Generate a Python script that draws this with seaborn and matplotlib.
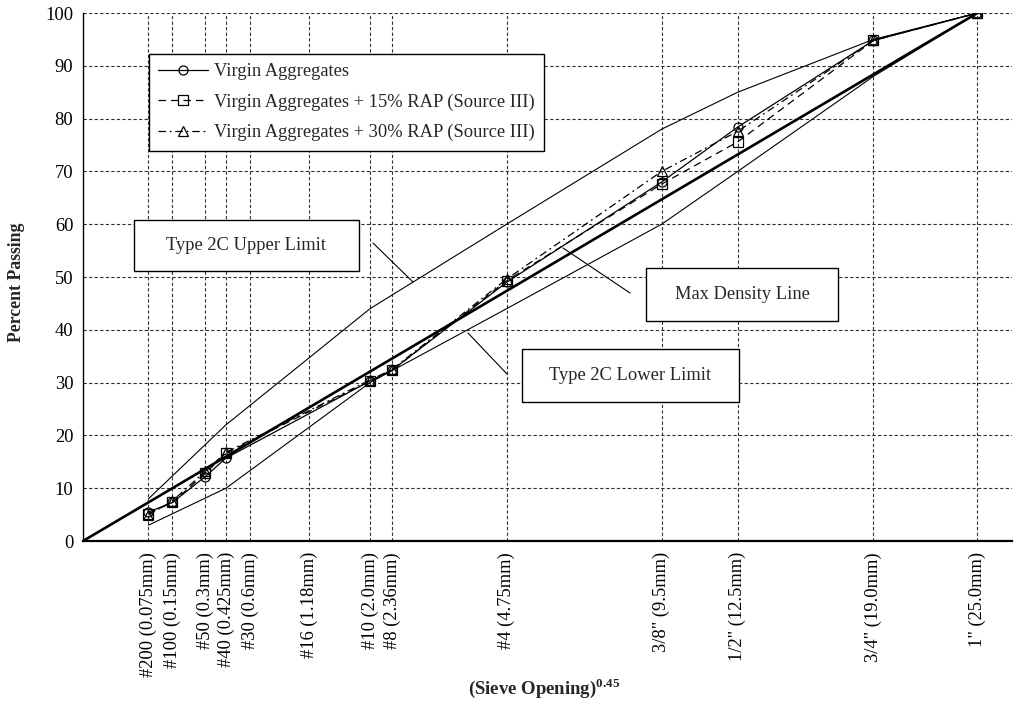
import numpy as np
import pandas as pd
import matplotlib
matplotlib.use('Agg')
import matplotlib.pyplot as plt
import seaborn as sns
from matplotlib.patches import Rectangle
from matplotlib.lines import Line2D

# sieve sizes (mm) and their labels on the 0.45 power axis
sieve_mm = [0.075, 0.15, 0.3, 0.425, 0.6, 1.18, 2.0, 2.36, 4.75, 9.5, 12.5, 19.0, 25.0]
sieve_labels = ['#200 (0.075mm)', '#100 (0.15mm)', '#50 (0.3mm)', '#40 (0.425mm)',
                '#30 (0.6mm)', '#16 (1.18mm)', '#10 (2.0mm)', '#8 (2.36mm)',
                '#4 (4.75mm)', '3/8" (9.5mm)', '1/2" (12.5mm)', '3/4" (19.0mm)',
                '1" (25.0mm)']

# gradations (percent passing)
blend_mm = [0.075, 0.15, 0.3, 0.425, 2.0, 2.36, 4.75, 9.5, 12.5, 19.0, 25.0]
virgin = [5.5, 7.3, 12.2, 15.7, 30.3, 32.4, 49.0, 68.0, 78.4, 94.8, 100]
rap15 = [5.2, 7.3, 12.8, 16.6, 30.3, 32.3, 49.3, 67.6, 75.6, 94.8, 100]
rap30 = [4.9, 7.6, 13.2, 16.8, 30.5, 32.5, 49.6, 70.0, 77.6, 94.8, 100]

# Type 2C specification band
limit_mm = [0.075, 0.425, 2.0, 4.75, 9.5, 12.5, 19.0, 25.0]
upper = [8, 22, 44, 60, 78, 85, 95, 100]
lower = [3, 10, 30, 44, 60, 70, 88, 100]

# max density line
maxden_mm = [0, 25.0]
maxden = [0, 100]

series_names = ['Virgin Aggregates',
                'Virgin Aggregates + 15% RAP (Source III)',
                'Virgin Aggregates + 30% RAP (Source III)']

sns.set_style('white')
plt.rcParams['font.family'] = ['Liberation Serif', 'DejaVu Serif']
plt.rcParams['mathtext.fontset'] = 'custom'
plt.rcParams['mathtext.rm'] = 'Liberation Serif'
plt.rcParams['mathtext.bf'] = 'Liberation Serif:bold'

FS = 13.3
W, H = 1019, 707
fig = plt.figure(figsize=(W / 100, H / 100), dpi=100)
ax = fig.add_axes([83 / W, 1 - 541 / H, (1012 - 83) / W, (541 - 13) / H])


def fwd(x):
    x = np.asarray(x, dtype=float)
    return np.sign(x) * np.abs(x) ** 0.45


def inv(x):
    x = np.asarray(x, dtype=float)
    return np.sign(x) * np.abs(x) ** (1 / 0.45)


ax.set_xscale('function', functions=(fwd, inv))
ax.set_xlim(0, 27.2)
ax.set_ylim(0, 100)

# reference lines
sns.lineplot(x=maxden_mm, y=maxden, ax=ax, color='black', linewidth=1.9, zorder=3)
sns.lineplot(x=limit_mm, y=upper, ax=ax, color='black', linewidth=0.8, zorder=3)
sns.lineplot(x=limit_mm, y=lower, ax=ax, color='black', linewidth=0.8, zorder=3)

# blends
styles = [('-', 'o'), ((0, (6, 4)), 's'), ((0, (6, 3, 1.5, 3)), '^')]
for name, vals, (ls, mk) in zip(series_names, [virgin, rap15, rap30], styles):
    sns.lineplot(x=blend_mm, y=vals, ax=ax, color='black', linewidth=0.9,
                 linestyle=ls, marker=mk, markersize=6.5, markerfacecolor='none',
                 markeredgecolor='black', markeredgewidth=0.9, label=name, zorder=4)

ax.set_xticks(sieve_mm)
ax.set_xticklabels(sieve_labels, rotation=90)
ax.set_yticks(range(0, 101, 10))
ax.grid(True, linestyle=(0, (3, 2)), color='#333333', linewidth=0.8)
ax.set_axisbelow(True)
for s in ['top', 'right']:
    ax.spines[s].set_visible(False)
ax.spines['left'].set_color('black')
ax.spines['left'].set_linewidth(1.0)
ax.spines['bottom'].set_color('black')
ax.spines['bottom'].set_linewidth(1.6)
ax.tick_params(axis='both', direction='out', length=4, width=0.8, color='black',
               labelsize=FS, labelcolor='black', pad=3)
ax.tick_params(axis='x', pad=4)

ax.set_ylabel('Percent Passing', fontsize=12.8, fontweight='bold')
ax.yaxis.set_label_coords((17 - 83) / 929, 0.49)
ax.yaxis.label.set_va('center')
ax.set_xlabel(r'(Sieve Opening)$^{\mathbf{0.45}}$', fontsize=13.5, fontweight='bold')
ax.xaxis.set_label_coords((544 - 83) / 929, (541 - 688) / 528)
ax.xaxis.label.set_va('center')

handles, labels = ax.get_legend_handles_labels()
leg = ax.legend(handles[:3], labels[:3], loc='upper left',
                bbox_to_anchor=(149 / W, 1 - 54 / H), bbox_transform=fig.transFigure,
                frameon=True, fancybox=False, edgecolor='black', framealpha=1,
                borderpad=0.5, labelspacing=0.72, handlelength=2.7, handletextpad=0.3,
                borderaxespad=0, fontsize=FS)
leg.get_frame().set_linewidth(1.0)


def label_box(text, left, top, right, bottom):
    fig.patches.append(Rectangle((left / W, 1 - bottom / H), (right - left) / W,
                                 (bottom - top) / H, transform=fig.transFigure,
                                 facecolor='white', edgecolor='black', linewidth=1.0,
                                 zorder=5))
    fig.text((left + right) / 2 / W, 1 - (top + bottom) / 2 / H, text,
             ha='center', va='center', fontsize=FS, zorder=6)


def pointer(x0, y0, x1, y1):
    fig.lines.append(Line2D([x0 / W, x1 / W], [1 - y0 / H, 1 - y1 / H],
                            transform=fig.transFigure, color='black', linewidth=0.8))


label_box('Type 2C Upper Limit', 134, 220, 359, 271)
label_box('Max Density Line', 646, 268, 838, 321)
label_box('Type 2C Lower Limit', 522, 349, 739, 402)
pointer(373, 243, 413, 282)
pointer(563, 248, 630, 293)
pointer(468, 333, 507, 374)

fig.savefig('out.png', dpi=100)
